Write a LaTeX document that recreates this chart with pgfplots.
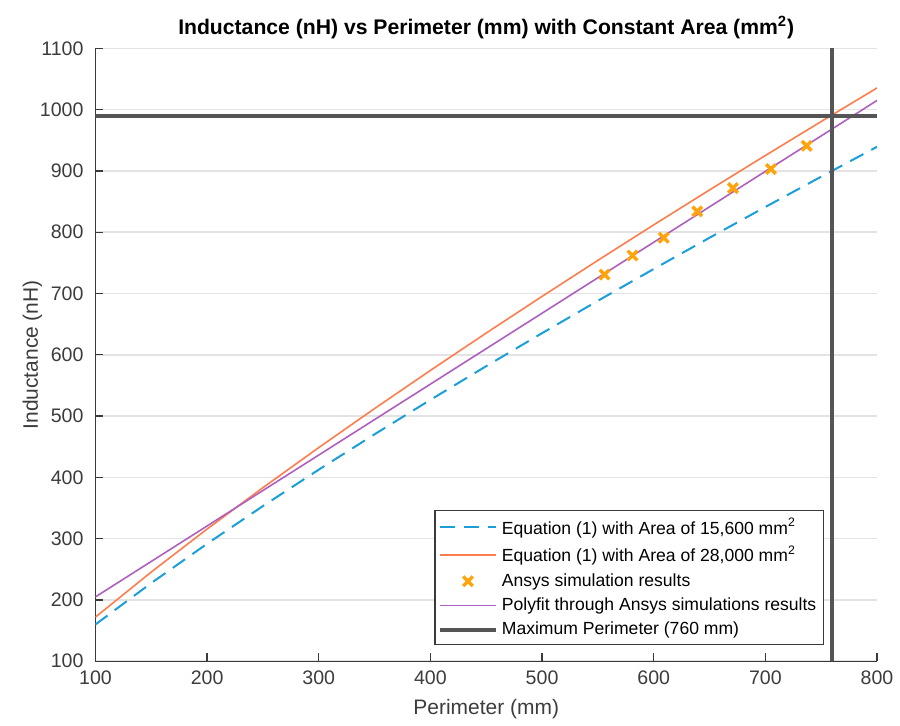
\documentclass[border=0pt]{standalone}
\usepackage{fontspec}
\setmainfont{Liberation Sans}
\usepackage{pgfplots}
\pgfplotsset{compat=1.18}
\definecolor{eqblue}{HTML}{1A9FDA}
\definecolor{eqorange}{HTML}{FF7D4D}
\definecolor{simyellow}{HTML}{FFA40A}
\definecolor{fitpurple}{HTML}{AE5FBF}
\definecolor{maxgray}{HTML}{555555}
\definecolor{axisgray}{HTML}{3A3A3A}
\definecolor{gridgray}{HTML}{E3E3E3}
\definecolor{ticktext}{HTML}{3C3C3C}

\begin{document}
\begin{tikzpicture}
\begin{axis}[
  scale only axis,
  width=391.5pt, height=307pt,
  xmin=100, xmax=800, ymin=100, ymax=1100,
  xtick={100,200,...,800},
  ytick={100,200,...,1100},
  axis x line*=bottom, axis y line*=left,
  axis line style={draw=axisgray, line width=0.7pt},
  tick align=inside,
  major tick length=4pt,
  tick style={draw=axisgray, line width=0.7pt},
  ymajorgrids,
  major grid style={draw=gridgray, line width=0.8pt},
  ticklabel style={font=\fontsize{9.8}{11}\selectfont, text=ticktext},
  yticklabel shift=2.5pt,
  xticklabel shift=1.5pt,
  /pgf/number format/assume math mode=true,
  /pgf/number format/1000 sep={},
  title={Inductance (nH) vs Perimeter (mm) with Constant Area (mm\textsuperscript{2})},
  title style={font=\bfseries\fontsize{10.6}{12}\selectfont, yshift=-5pt},
  xlabel={Perimeter (mm)},
  ylabel={Inductance (nH)},
  label style={font=\fontsize{10.5}{12}\selectfont, text=ticktext},
  ylabel style={yshift=-8pt},
  legend style={at={(0.932,0.026)}, anchor=south east,
    font=\fontsize{8.8}{10.5}\selectfont, draw=axisgray, line width=0.6pt,
    inner sep=1.5pt, row sep=0.3pt},
  legend cell align=left,
  legend image code/.code={\draw[mark repeat=2,mark phase=2] plot coordinates {(0pt,0pt) (14pt,0pt) (28pt,0pt)};},
]
% Equation (1), area 15,600 mm^2
\addplot[eqblue, line width=1pt, dash pattern=on 7.5pt off 4.5pt] coordinates {
(100,160.0) (150,227.6) (200,291.7) (250,353.2) (300,412.6) (350,470.3)
(400,526.5) (450,581.5) (500,635.3) (550,688.1) (600,740.0) (650,791.0)
(700,841.2) (750,890.6) (800,939.4)};
% Equation (1), area 28,000 mm^2
\addplot[eqorange, line width=0.8pt] coordinates {
(100,172.0) (150,245.6) (200,315.7) (250,383.2) (300,448.6) (350,512.3)
(400,574.5) (450,635.5) (500,695.3) (550,754.1) (600,812.0) (650,869.0)
(700,925.2) (750,980.6) (800,1035.4)};
% Ansys results
\addplot[only marks, mark=x, mark size=3.4pt, simyellow, line width=1.7pt] coordinates {
(556,731) (581,762) (609,791) (639,834) (671,872) (705,903) (737,941)};
% linear fit
\addplot[fitpurple, line width=0.8pt] coordinates {(100,205) (800,1015)};
% limits
\addplot[maxgray, line width=2pt] coordinates {(100,990) (800,990)};
\addplot[maxgray, line width=2pt, forget plot] coordinates {(760,100) (760,1100)};
\legend{{Equation (1) with Area of 15,600 mm\textsuperscript{2}},
        {Equation (1) with Area of 28,000 mm\textsuperscript{2}},
        {Ansys simulation results},
        {Polyfit through Ansys simulations results},
        {Maximum Perimeter (760 mm)}}
\end{axis}
\path (current bounding box.north) ++(0,5pt);
\path (current bounding box.west) ++(-8pt,0);
\end{tikzpicture}
\end{document}
